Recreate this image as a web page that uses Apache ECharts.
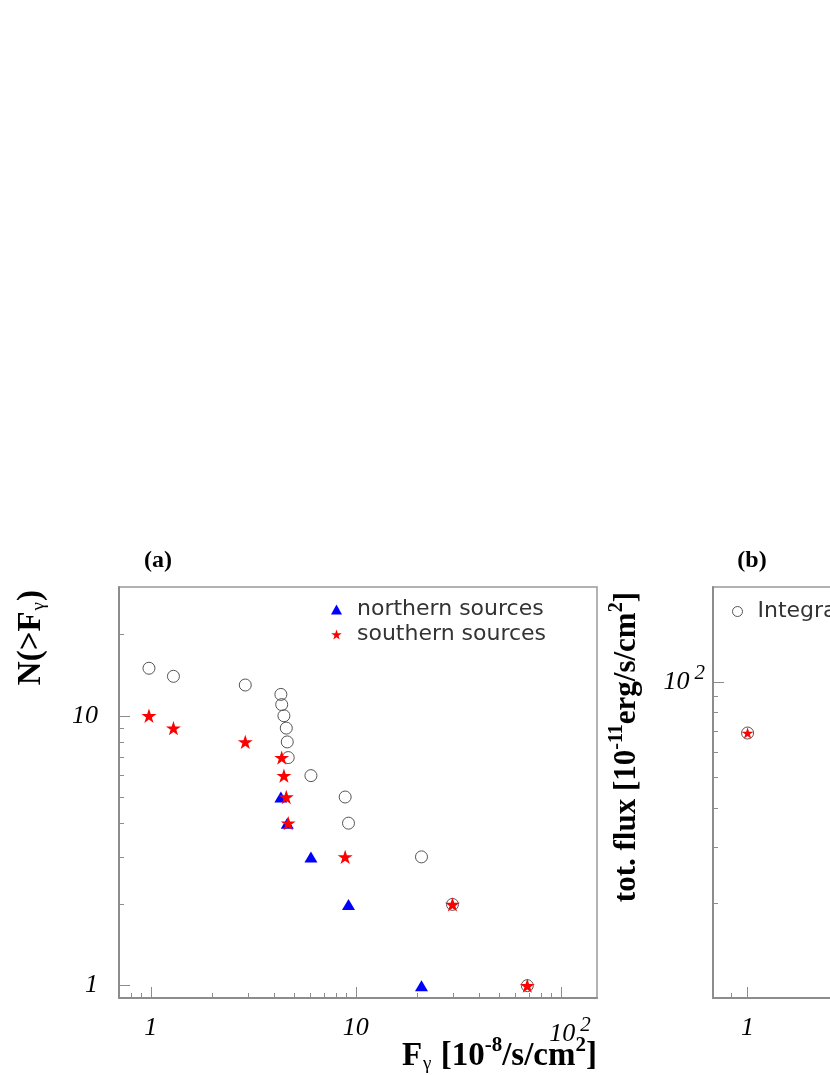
<!DOCTYPE html>
<html>
<head>
<meta charset="utf-8">
<script src="https://cdn.jsdelivr.net/npm/echarts@6/dist/echarts.min.js"></script>
<style>
  html, body { margin: 0; padding: 0; background: #fff; }
  #chart { width: 830px; height: 1075px; }
</style>
</head>
<body>
<div id="chart"></div>
<script>
// panel (a): cumulative source counts N(>F)
const totalFlux = [0.98, 1.29, 2.89, 4.31, 4.35, 4.46, 4.58, 4.63, 4.68, 6.04, 8.87, 9.21, 20.9, 29.6, 68.6];
const totalN = [15, 14, 13, 12, 11, 10, 9, 8, 7, 6, 5, 4, 3, 2, 1];
const northFlux = [4.31, 4.63, 6.04, 9.21, 20.9];
const northN = [5, 4, 3, 2, 1];
const southFlux = [0.98, 1.29, 2.89, 4.35, 4.46, 4.58, 4.68, 8.87, 29.6, 68.6];
const southN = [10, 9, 8, 7, 6, 5, 4, 3, 2, 1];

// panel (b): total flux
const integralX = [1];
const integralY = [69];
const southTotX = [1];
const southTotY = [69];

// minor tick positions
const xMinorA = [0.8, 0.9, 2, 3, 4, 5, 6, 7, 8, 9, 20, 30, 40, 50, 60, 70, 80, 90];
const yMinorA = [2, 3, 4, 5, 6, 7, 8, 9, 20];
const xMinorB = [0.9, 2, 3, 4, 5, 6, 7, 8, 9];
const yMinorB = [20, 30, 40, 50, 60, 70, 80, 90];

const STAR = 'path://M100 0L122.45 69.1L195.1 69.1L136.3 111.8L158.8 180.9L100 138.2L41.2 180.9L63.7 111.8L4.9 69.1L77.55 69.1Z';
const SERIF = 'Liberation Serif';
const AXIS_GREY = '#8c8c8c';

function zip(xs, ys) {
  return xs.map((x, i) => [x, ys[i]]);
}

function isNear(v, d) {
  return Math.abs(v - d) < 1e-6 * d;
}

function xDecadeLabel(v) {
  if (isNear(v, 1)) return '1';
  if (isNear(v, 10)) return '10';
  if (isNear(v, 100)) return '{nx|10}{e|2}';
  return '';
}

function yDecadeLabel(v) {
  if (isNear(v, 1)) return '1';
  if (isNear(v, 10)) return '10';
  if (isNear(v, 100)) return '{n|10}{e|2}';
  return '';
}

const labelRich = {
  n: { fontFamily: SERIF, fontStyle: 'italic', fontSize: 26, color: '#000' },
  nx: { fontFamily: SERIF, fontStyle: 'italic', fontSize: 26, color: '#000', padding: [0, 0, 0, 18] },
  e: { fontFamily: SERIF, fontStyle: 'italic', fontSize: 21, color: '#000', padding: [0, 0, 18, 5] }
};

function majorAxis(grid, min, max, position, margin, formatter) {
  return {
    type: 'log', logBase: 10, gridIndex: grid, min: min, max: max, position: position,
    axisLine: { show: true, onZero: false, lineStyle: { color: AXIS_GREY, width: 2 } },
    axisTick: { show: true, inside: true, length: 11, lineStyle: { color: AXIS_GREY, width: 1 } },
    minorTick: { show: false },
    splitLine: { show: false },
    axisLabel: {
      show: true, margin: margin, showMinLabel: false, showMaxLabel: false,
      fontFamily: SERIF, fontStyle: 'italic', fontSize: 26, color: '#000',
      formatter: formatter, rich: labelRich
    }
  };
}

function minorAxis(grid, min, max, position, ticks) {
  return {
    type: 'value', gridIndex: grid, min: Math.log10(min), max: Math.log10(max), position: position,
    axisLine: { show: false, onZero: false },
    axisTick: { show: true, inside: true, length: 5, customValues: ticks.map(Math.log10), lineStyle: { color: AXIS_GREY, width: 1 } },
    axisLabel: { show: false },
    splitLine: { show: false }
  };
}

const chart = echarts.init(document.getElementById('chart'), null, { renderer: 'canvas' });

const legendText = { fontFamily: 'DejaVu Sans', fontSize: 22, color: '#333', lineHeight: 25, padding: [0, 0, 0, 10] };
const openCircle = { color: 'rgba(255,255,255,0)', borderColor: '#555', borderWidth: 1, opacity: 1 };

chart.setOption({
  animation: false,
  backgroundColor: '#fff',
  grid: [
    { left: 119, top: 587, width: 478, height: 411, show: true, borderColor: '#999', borderWidth: 1.5, backgroundColor: 'transparent', outerBoundsMode: 'none', containLabel: false },
    { left: 713, top: 587, width: 478, height: 411, show: true, borderColor: '#999', borderWidth: 1.5, backgroundColor: 'transparent', outerBoundsMode: 'none', containLabel: false }
  ],
  xAxis: [
    majorAxis(0, 0.7, 150, 'bottom', 17, xDecadeLabel),
    minorAxis(0, 0.7, 150, 'bottom', xMinorA),
    majorAxis(1, 0.8, 17.5, 'bottom', 17, xDecadeLabel),
    minorAxis(1, 0.8, 17.5, 'bottom', xMinorB)
  ],
  yAxis: [
    majorAxis(0, 0.9, 30, 'left', 21, yDecadeLabel),
    minorAxis(0, 0.9, 30, 'left', yMinorA),
    majorAxis(1, 10, 200, 'left', 8, yDecadeLabel),
    minorAxis(1, 10, 200, 'left', yMinorB)
  ],
  legend: [
    {
      orient: 'vertical', left: 326, top: 592, itemWidth: 11, itemHeight: 10, itemGap: 0,
      selectedMode: false, textStyle: legendText,
      data: [
        { name: 'northern sources', icon: 'triangle', itemStyle: { color: '#0000ff', opacity: 1 } },
        { name: 'southern sources', icon: STAR, itemStyle: { color: '#ff0000', opacity: 1 } }
      ]
    },
    {
      orient: 'vertical', left: 727, top: 594, itemWidth: 10, itemHeight: 10, itemGap: 0,
      selectedMode: false, textStyle: legendText,
      data: [
        { name: 'Integral flux', icon: 'circle', itemStyle: { color: '#fff', borderColor: '#555', borderWidth: 1 } }
      ]
    }
  ],
  series: [
    {
      name: 'total', type: 'scatter', xAxisIndex: 0, yAxisIndex: 0,
      symbol: 'circle', symbolSize: 12,
      itemStyle: openCircle,
      data: zip(totalFlux, totalN)
    },
    {
      name: 'northern sources', type: 'scatter', xAxisIndex: 0, yAxisIndex: 0,
      symbol: 'triangle', symbolSize: [13, 11],
      itemStyle: { color: '#0000ff', opacity: 1 },
      data: zip(northFlux, northN)
    },
    {
      name: 'southern sources', type: 'scatter', xAxisIndex: 0, yAxisIndex: 0,
      symbol: STAR, symbolSize: [15, 14.3],
      itemStyle: { color: '#ff0000', opacity: 1 },
      data: zip(southFlux, southN)
    },
    {
      name: 'Integral flux', type: 'scatter', xAxisIndex: 2, yAxisIndex: 2,
      symbol: 'circle', symbolSize: 12,
      itemStyle: openCircle,
      data: zip(integralX, integralY)
    },
    {
      name: 'southern total', type: 'scatter', xAxisIndex: 2, yAxisIndex: 2,
      symbol: STAR, symbolSize: [12, 11.4],
      itemStyle: { color: '#ff0000', opacity: 1 },
      data: zip(southTotX, southTotY)
    }
  ],
  graphic: [
    { type: 'text', x: 158, y: 561, style: { text: '(a)', font: 'bold 24px "Liberation Serif"', fill: '#000', align: 'center', verticalAlign: 'middle' } },
    { type: 'text', x: 752, y: 561, style: { text: '(b)', font: 'bold 24px "Liberation Serif"', fill: '#000', align: 'center', verticalAlign: 'middle' } },
    {
      type: 'text', x: 597, y: 1056,
      style: {
        text: '{b|F}{g|γ}{b| [10}{s|-8}{b|/s/cm}{s|2}{b|]}',
        align: 'right', verticalAlign: 'middle', fill: '#000',
        rich: {
          b: { fontFamily: SERIF, fontWeight: 'bold', fontSize: 33, fill: '#000' },
          g: { fontFamily: SERIF, fontSize: 19, fill: '#000', padding: [16, 1, 0, 1] },
          s: { fontFamily: SERIF, fontWeight: 'bold', fontSize: 21, fill: '#000', padding: [0, 0, 20, 0] }
        }
      }
    },
    {
      type: 'text', x: 31, y: 590, rotation: Math.PI / 2,
      style: {
        text: '{b|N(>F}{g|γ}{b|)}',
        align: 'right', verticalAlign: 'middle', fill: '#000',
        rich: {
          b: { fontFamily: SERIF, fontWeight: 'bold', fontSize: 33, fill: '#000' },
          g: { fontFamily: SERIF, fontSize: 19, fill: '#000', padding: [16, 1, 0, 1] }
        }
      }
    },
    {
      type: 'text', x: 627, y: 592, rotation: Math.PI / 2,
      style: {
        text: '{b|tot. flux [10}{s|-11}{b|erg/s/cm}{s|2}{b|]}',
        align: 'right', verticalAlign: 'middle', fill: '#000',
        rich: {
          b: { fontFamily: SERIF, fontWeight: 'bold', fontSize: 31, fill: '#000' },
          s: { fontFamily: SERIF, fontWeight: 'bold', fontSize: 20, fill: '#000', padding: [0, 0, 20, 0] }
        }
      }
    }
  ]
});
</script>
</body>
</html>
